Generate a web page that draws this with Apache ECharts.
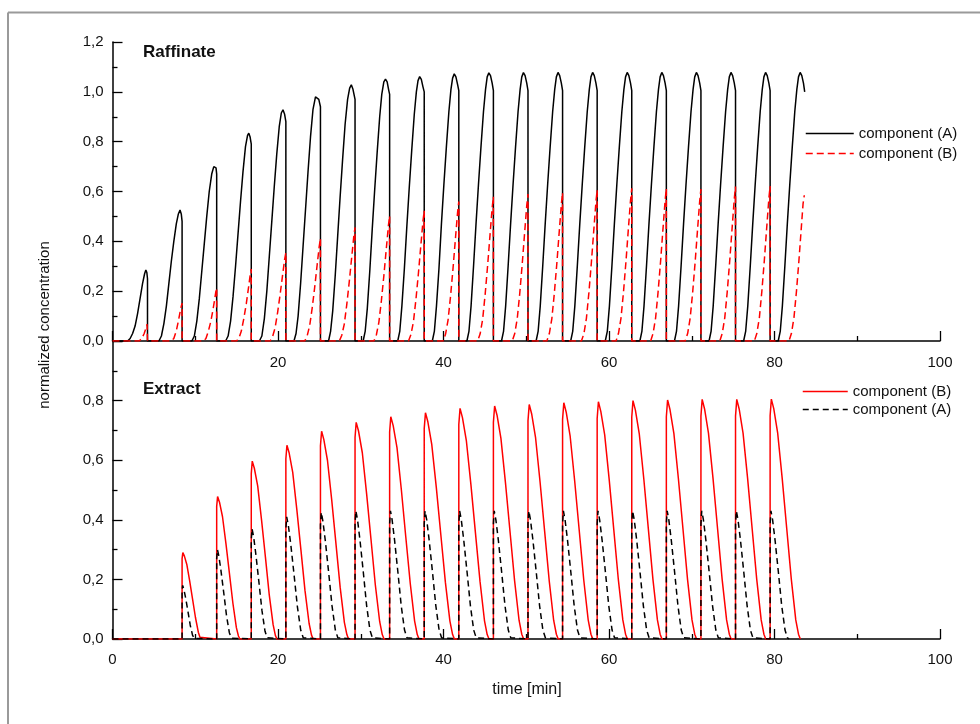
<!DOCTYPE html>
<html>
<head>
<meta charset="utf-8">
<script src="https://cdn.jsdelivr.net/npm/echarts@6/dist/echarts.min.js"></script>
<style>
html,body{margin:0;padding:0;background:#fff;}
#chart{width:980px;height:724px;}
</style>
</head>
<body>
<div id="chart"></div>
<script>
// ---------- data (time [min], normalized concentration) ----------
const xTicks = [0, 20, 40, 60, 80, 100];
const seriesNames = ['component (A)', 'component (B)'];
const panelTitles = ['Raffinate', 'Extract'];

// Raffinate, component (A) - solid black
const raffinateA = [
[0,0],
[1.83,0],[2.13,0.01],[2.43,0.03],[2.73,0.06],[3.03,0.11],[3.33,0.17],[3.63,0.23],[3.88,0.27],[4.03,0.285],[4.15,0.275],[4.23,0.25],[4.23,0],
[5.61,0],[5.91,0.02],[6.21,0.07],[6.51,0.14],[6.81,0.23],[7.11,0.32],[7.41,0.40],[7.71,0.47],[7.96,0.51],[8.16,0.526],[8.31,0.51],[8.41,0.48],[8.41,0],
[9.59,0],[9.89,0.02],[10.19,0.08],[10.49,0.17],[10.79,0.28],[11.09,0.39],[11.39,0.50],[11.69,0.60],[11.99,0.67],[12.24,0.70],[12.39,0.707],[12.51,0.695],[12.59,0.67],[12.59,0],
[13.67,0],[13.97,0.02],[14.27,0.08],[14.57,0.18],[14.87,0.30],[15.17,0.43],[15.47,0.56],[15.77,0.68],[16.07,0.78],[16.32,0.825],[16.47,0.834],[16.62,0.82],[16.77,0.79],[16.77,0],
[17.75,0],[18.05,0.02],[18.35,0.09],[18.65,0.20],[18.95,0.34],[19.25,0.48],[19.55,0.62],[19.85,0.75],[20.15,0.86],[20.40,0.915],[20.60,0.928],[20.80,0.91],[20.95,0.88],[20.95,0],
[21.93,0],[22.18,0.03],[22.43,0.10],[22.73,0.23],[23.03,0.38],[23.33,0.53],[23.63,0.68],[23.93,0.82],[24.23,0.93],[24.53,0.98],[24.73,0.988],[24.93,0.97],[25.13,0.94],[25.13,0],
[26.11,0],[26.36,0.04],[26.61,0.12],[26.91,0.26],[27.21,0.42],[27.51,0.58],[27.81,0.73],[28.11,0.87],[28.41,0.97],[28.66,1.015],[28.86,1.028],[29.06,1.01],[29.31,0.97],[29.31,0],
[30.29,0],[30.54,0.04],[30.79,0.13],[31.09,0.28],[31.39,0.45],[31.69,0.61],[31.99,0.76],[32.29,0.90],[32.54,0.99],[32.79,1.04],[32.99,1.051],[33.19,1.04],[33.39,1.005],[33.49,0.99],[33.49,0],
[34.47,0],[34.72,0.04],[34.97,0.14],[35.27,0.29],[35.57,0.46],[35.87,0.62],[36.17,0.77],[36.47,0.91],[36.72,1.00],[36.92,1.045],[37.12,1.061],[37.32,1.05],[37.52,1.02],[37.67,1.0],[37.67,0],
[38.65,0],[38.90,0.04],[39.15,0.14],[39.45,0.29],[39.75,0.47],[40.05,0.63],[40.35,0.78],[40.65,0.92],[40.90,1.01],[41.10,1.055],[41.30,1.072],[41.50,1.06],[41.70,1.03],[41.85,1.005],[41.85,0],
[42.83,0],[43.08,0.04],[43.33,0.14],[43.63,0.30],[43.93,0.47],[44.23,0.63],[44.53,0.78],[44.83,0.92],[45.08,1.01],[45.28,1.06],[45.48,1.076],[45.68,1.065],[45.88,1.035],[46.03,1.005],[46.03,0],
[47.01,0],[47.26,0.04],[47.51,0.14],[47.81,0.30],[48.11,0.47],[48.41,0.63],[48.71,0.78],[49.01,0.92],[49.26,1.01],[49.46,1.06],[49.66,1.077],[49.86,1.065],[50.06,1.035],[50.21,1.005],[50.21,0],
[51.19,0],[51.44,0.04],[51.69,0.14],[51.99,0.30],[52.29,0.47],[52.59,0.63],[52.89,0.78],[53.19,0.92],[53.44,1.01],[53.64,1.06],[53.84,1.078],[54.04,1.065],[54.24,1.035],[54.39,1.005],[54.39,0],
[55.37,0],[55.62,0.04],[55.87,0.14],[56.17,0.30],[56.47,0.47],[56.77,0.63],[57.07,0.78],[57.37,0.92],[57.62,1.01],[57.82,1.06],[58.02,1.078],[58.22,1.065],[58.42,1.035],[58.57,1.005],[58.57,0],
[59.55,0],[59.80,0.04],[60.05,0.14],[60.35,0.30],[60.65,0.47],[60.95,0.63],[61.25,0.78],[61.55,0.92],[61.80,1.01],[62.00,1.06],[62.20,1.078],[62.40,1.065],[62.60,1.035],[62.75,1.005],[62.75,0],
[63.73,0],[63.98,0.04],[64.23,0.14],[64.53,0.30],[64.83,0.47],[65.13,0.63],[65.43,0.78],[65.73,0.92],[65.98,1.01],[66.18,1.06],[66.38,1.078],[66.58,1.065],[66.78,1.035],[66.93,1.005],[66.93,0],
[67.91,0],[68.16,0.04],[68.41,0.14],[68.71,0.30],[69.01,0.47],[69.31,0.63],[69.61,0.78],[69.91,0.92],[70.16,1.01],[70.36,1.06],[70.56,1.078],[70.76,1.065],[70.96,1.035],[71.11,1.005],[71.11,0],
[72.09,0],[72.34,0.04],[72.59,0.14],[72.89,0.30],[73.19,0.47],[73.49,0.63],[73.79,0.78],[74.09,0.92],[74.34,1.01],[74.54,1.06],[74.74,1.078],[74.94,1.065],[75.14,1.035],[75.29,1.005],[75.29,0],
[76.27,0],[76.52,0.04],[76.77,0.14],[77.07,0.30],[77.37,0.47],[77.67,0.63],[77.97,0.78],[78.27,0.92],[78.52,1.01],[78.72,1.06],[78.92,1.078],[79.12,1.065],[79.32,1.035],[79.47,1.005],[79.47,0],
[80.45,0],[80.70,0.04],[80.95,0.14],[81.25,0.30],[81.55,0.47],[81.85,0.63],[82.15,0.78],[82.45,0.92],[82.70,1.01],[82.90,1.06],[83.10,1.078],[83.30,1.065],[83.50,1.035],[83.65,1.0]
];

// Raffinate, component (B) - dashed red
const raffinateB = [
[0,0],
[3.23,0],[3.53,0.01],[3.83,0.03],[4.03,0.05],[4.18,0.067],[4.23,0.072],[4.23,0],
[7.11,0],[7.41,0.01],[7.71,0.04],[7.96,0.08],[8.16,0.115],[8.33,0.142],[8.41,0.152],[8.41,0],
[10.99,0],[11.29,0.01],[11.59,0.04],[11.89,0.08],[12.14,0.125],[12.34,0.165],[12.49,0.198],[12.59,0.213],[12.59,0],
[14.97,0],[15.27,0.01],[15.57,0.04],[15.87,0.09],[16.17,0.15],[16.42,0.21],[16.62,0.26],[16.77,0.289],[16.77,0],
[19.05,0],[19.35,0.018],[19.65,0.053],[19.95,0.114],[20.25,0.185],[20.55,0.263],[20.80,0.327],[20.95,0.355],[20.95,0],
[23.23,0],[23.53,0.021],[23.83,0.062],[24.13,0.132],[24.43,0.214],[24.73,0.305],[24.98,0.379],[25.13,0.412],[25.13,0],
[27.41,0],[27.71,0.023],[28.01,0.068],[28.31,0.146],[28.61,0.237],[28.91,0.337],[29.16,0.42],[29.31,0.456],[29.31,0],
[31.59,0],[31.89,0.025],[32.19,0.075],[32.49,0.161],[32.79,0.261],[33.09,0.371],[33.34,0.462],[33.49,0.502],[33.49,0],
[35.77,0],[36.07,0.026],[36.37,0.078],[36.67,0.167],[36.97,0.272],[37.27,0.387],[37.52,0.481],[37.67,0.523],[37.67,0],
[39.95,0],[40.25,0.028],[40.55,0.084],[40.85,0.179],[41.15,0.291],[41.45,0.414],[41.70,0.515],[41.85,0.56],[41.85,0],
[44.13,0],[44.43,0.029],[44.73,0.087],[45.03,0.186],[45.33,0.302],[45.63,0.429],[45.88,0.534],[46.03,0.58],[46.03,0],
[48.31,0],[48.61,0.03],[48.91,0.089],[49.21,0.189],[49.51,0.307],[49.81,0.437],[50.06,0.543],[50.21,0.59],[50.21,0],
[52.49,0],[52.79,0.03],[53.09,0.089],[53.39,0.19],[53.69,0.309],[53.99,0.44],[54.24,0.547],[54.39,0.595],[54.39,0],
[56.67,0],[56.97,0.03],[57.27,0.091],[57.57,0.194],[57.87,0.315],[58.17,0.448],[58.42,0.558],[58.57,0.606],[58.57,0],
[60.85,0],[61.15,0.031],[61.45,0.092],[61.75,0.196],[62.05,0.319],[62.35,0.454],[62.60,0.564],[62.75,0.613],[62.75,0],
[65.03,0],[65.33,0.031],[65.63,0.092],[65.93,0.196],[66.23,0.318],[66.53,0.453],[66.78,0.563],[66.93,0.612],[66.93,0],
[69.21,0],[69.51,0.031],[69.81,0.092],[70.11,0.195],[70.41,0.317],[70.71,0.451],[70.96,0.561],[71.11,0.61],[71.11,0],
[73.39,0],[73.69,0.031],[73.99,0.093],[74.29,0.198],[74.59,0.322],[74.89,0.459],[75.14,0.57],[75.29,0.62],[75.29,0],
[77.57,0],[77.87,0.031],[78.17,0.093],[78.47,0.199],[78.77,0.323],[79.07,0.46],[79.32,0.572],[79.47,0.622],[79.47,0],
[81.75,0],[82.05,0.031],[82.35,0.093],[82.65,0.198],[82.95,0.322],[83.25,0.459],[83.45,0.55],[83.6,0.585]
];

// Extract, component (B) - solid red
const extractB = [
[0,0],
[8.41,0],[8.41,0.27],[8.50,0.29],[8.69,0.278],[8.99,0.249],[9.33,0.194],[9.68,0.133],[10.02,0.073],[10.37,0.023],[10.57,0.006],[10.71,0],
[12.59,0],[12.59,0.445],[12.70,0.478],[12.93,0.459],[13.29,0.411],[13.71,0.32],[14.13,0.22],[14.55,0.12],[14.97,0.038],[15.22,0.01],[15.39,0],
[16.77,0],[16.77,0.555],[16.89,0.597],[17.14,0.573],[17.55,0.513],[18.01,0.40],[18.48,0.275],[18.94,0.149],[19.41,0.048],[19.68,0.012],[19.87,0],
[20.95,0],[20.95,0.605],[21.08,0.65],[21.35,0.624],[21.78,0.559],[22.27,0.436],[22.77,0.299],[23.26,0.163],[23.76,0.052],[24.05,0.013],[24.25,0],
[25.13,0],[25.13,0.648],[25.27,0.697],[25.54,0.669],[25.98,0.599],[26.49,0.467],[27.00,0.321],[27.51,0.174],[28.02,0.056],[28.33,0.014],[28.53,0],
[29.31,0],[29.31,0.676],[29.45,0.727],[29.73,0.698],[30.19,0.625],[30.71,0.487],[31.24,0.334],[31.76,0.182],[32.29,0.058],[32.60,0.015],[32.81,0],
[33.49,0],[33.49,0.694],[33.63,0.746],[33.92,0.716],[34.38,0.642],[34.91,0.50],[35.44,0.343],[35.98,0.187],[36.51,0.06],[36.83,0.015],[37.04,0],
[37.67,0],[37.67,0.706],[37.82,0.759],[38.11,0.729],[38.58,0.653],[39.13,0.509],[39.68,0.349],[40.23,0.19],[40.77,0.061],[41.10,0.015],[41.32,0],
[41.85,0],[41.85,0.72],[42.00,0.774],[42.29,0.743],[42.76,0.666],[43.31,0.519],[43.86,0.356],[44.41,0.194],[44.95,0.062],[45.28,0.015],[45.50,0],
[46.03,0],[46.03,0.727],[46.18,0.782],[46.47,0.751],[46.94,0.673],[47.49,0.524],[48.04,0.36],[48.59,0.196],[49.13,0.063],[49.46,0.016],[49.68,0],
[50.21,0],[50.21,0.732],[50.36,0.787],[50.65,0.756],[51.12,0.677],[51.67,0.527],[52.22,0.362],[52.77,0.197],[53.31,0.063],[53.64,0.016],[53.86,0],
[54.39,0],[54.39,0.737],[54.54,0.793],[54.83,0.761],[55.30,0.682],[55.85,0.531],[56.40,0.365],[56.95,0.198],[57.49,0.063],[57.82,0.016],[58.04,0],
[58.57,0],[58.57,0.74],[58.72,0.796],[59.01,0.764],[59.48,0.685],[60.03,0.533],[60.58,0.366],[61.13,0.199],[61.67,0.064],[62.00,0.016],[62.22,0],
[62.75,0],[62.75,0.744],[62.90,0.80],[63.19,0.768],[63.66,0.688],[64.21,0.536],[64.76,0.368],[65.31,0.20],[65.85,0.064],[66.18,0.016],[66.40,0],
[66.93,0],[66.93,0.746],[67.08,0.802],[67.37,0.77],[67.84,0.69],[68.39,0.537],[68.94,0.369],[69.49,0.20],[70.03,0.064],[70.36,0.016],[70.58,0],
[71.11,0],[71.11,0.748],[71.26,0.804],[71.55,0.772],[72.02,0.691],[72.57,0.539],[73.12,0.37],[73.67,0.201],[74.21,0.064],[74.54,0.016],[74.76,0],
[75.29,0],[75.29,0.748],[75.44,0.804],[75.73,0.772],[76.20,0.691],[76.75,0.539],[77.30,0.37],[77.85,0.201],[78.39,0.064],[78.72,0.016],[78.94,0],
[79.47,0],[79.47,0.749],[79.62,0.805],[79.91,0.773],[80.38,0.692],[80.93,0.539],[81.48,0.37],[82.03,0.201],[82.57,0.064],[82.90,0.016],[83.12,0]
];

// Extract, component (A) - dashed black
const extractA = [
[0,0],
[8.41,0],[8.41,0.162],[8.48,0.18],[8.62,0.167],[8.83,0.139],[9.11,0.094],[9.39,0.047],[9.67,0.013],[9.88,0.002],[10.02,0],
[12.59,0],[12.59,0.27],[12.68,0.30],[12.85,0.279],[13.10,0.231],[13.44,0.156],[13.78,0.078],[14.12,0.021],[14.38,0.003],[14.55,0],
[16.77,0],[16.77,0.333],[16.86,0.37],[17.05,0.344],[17.32,0.285],[17.69,0.192],[18.06,0.096],[18.43,0.026],[18.70,0.004],[18.89,0],
[20.95,0],[20.95,0.369],[21.05,0.41],[21.25,0.381],[21.55,0.316],[21.95,0.213],[22.35,0.107],[22.75,0.029],[23.05,0.004],[23.25,0],
[25.13,0],[25.13,0.383],[25.23,0.425],[25.43,0.395],[25.73,0.327],[26.13,0.221],[26.53,0.111],[26.93,0.03],[27.23,0.004],[27.43,0],
[29.31,0],[29.31,0.387],[29.41,0.43],[29.61,0.40],[29.91,0.331],[30.31,0.224],[30.71,0.112],[31.11,0.03],[31.41,0.004],[31.61,0],
[33.49,0],[33.49,0.387],[33.59,0.43],[33.79,0.40],[34.09,0.331],[34.49,0.224],[34.89,0.112],[35.29,0.03],[35.59,0.004],[35.79,0],
[37.67,0],[37.67,0.387],[37.77,0.43],[37.97,0.40],[38.27,0.331],[38.67,0.224],[39.07,0.112],[39.47,0.03],[39.77,0.004],[39.97,0],
[41.85,0],[41.85,0.387],[41.95,0.43],[42.15,0.40],[42.45,0.331],[42.85,0.224],[43.25,0.112],[43.65,0.03],[43.95,0.004],[44.15,0],
[46.03,0],[46.03,0.387],[46.13,0.43],[46.33,0.40],[46.63,0.331],[47.03,0.224],[47.43,0.112],[47.83,0.03],[48.13,0.004],[48.33,0],
[50.21,0],[50.21,0.387],[50.31,0.43],[50.51,0.40],[50.81,0.331],[51.21,0.224],[51.61,0.112],[52.01,0.03],[52.31,0.004],[52.51,0],
[54.39,0],[54.39,0.387],[54.49,0.43],[54.69,0.40],[54.99,0.331],[55.39,0.224],[55.79,0.112],[56.19,0.03],[56.49,0.004],[56.69,0],
[58.57,0],[58.57,0.387],[58.67,0.43],[58.87,0.40],[59.17,0.331],[59.57,0.224],[59.97,0.112],[60.37,0.03],[60.67,0.004],[60.87,0],
[62.75,0],[62.75,0.387],[62.85,0.43],[63.05,0.40],[63.35,0.331],[63.75,0.224],[64.15,0.112],[64.55,0.03],[64.85,0.004],[65.05,0],
[66.93,0],[66.93,0.387],[67.03,0.43],[67.23,0.40],[67.53,0.331],[67.93,0.224],[68.33,0.112],[68.73,0.03],[69.03,0.004],[69.23,0],
[71.11,0],[71.11,0.387],[71.21,0.43],[71.41,0.40],[71.71,0.331],[72.11,0.224],[72.51,0.112],[72.91,0.03],[73.21,0.004],[73.41,0],
[75.29,0],[75.29,0.387],[75.39,0.43],[75.59,0.40],[75.89,0.331],[76.29,0.224],[76.69,0.112],[77.09,0.03],[77.39,0.004],[77.59,0],
[79.47,0],[79.47,0.387],[79.57,0.43],[79.77,0.40],[80.07,0.331],[80.47,0.224],[80.87,0.112],[81.27,0.03],[81.57,0.004],[81.77,0]
];

// ---------- chart ----------
const FONT = '"Liberation Sans", Arial, sans-serif';
const chart = echarts.init(document.getElementById('chart'), null, {renderer: 'canvas'});

function comma(v) { return v.toFixed(1).replace('.', ','); }

function xAxisCfg(gridIndex, showZero, margin) {
  return {
    type: 'value', gridIndex: gridIndex, min: xTicks[0], max: xTicks[xTicks.length - 1], interval: 20,
    axisLine: {lineStyle: {color: '#000', width: 1.5}},
    axisTick: {inside: true, length: 10, lineStyle: {color: '#000', width: 1.3}},
    minorTick: {show: true, splitNumber: 2, length: 5, lineStyle: {color: '#000', width: 1.3}},
    splitLine: {show: false},
    axisLabel: {
      margin: margin, fontSize: 15, color: '#111', fontFamily: FONT,
      formatter: function (v) { return (!showZero && v === 0) ? '' : String(v); }
    }
  };
}
function yAxisCfg(gridIndex, max, hideTop) {
  return {
    type: 'value', gridIndex: gridIndex, min: 0, max: max, interval: 0.2,
    axisLine: {show: true, lineStyle: {color: '#000', width: 1.5}},
    axisTick: {inside: true, length: 10, lineStyle: {color: '#000', width: 1.3}},
    minorTick: {show: true, splitNumber: 2, length: 5, lineStyle: {color: '#000', width: 1.3}},
    splitLine: {show: false},
    axisLabel: {
      margin: 9, fontSize: 15, color: '#111', fontFamily: FONT,
      formatter: function (v) { return (hideTop && Math.abs(v - max) < 1e-6) ? '' : comma(v); }
    }
  };
}

const noSymbol = {opacity: 0, borderWidth: 0};

const option = {
  animation: false,
  backgroundColor: '#fff',
  title: [
    {text: panelTitles[0], left: 143, top: 44, padding: 0,
     textStyle: {fontSize: 17, fontWeight: 'bold', color: '#111', fontFamily: FONT}},
    {text: panelTitles[1], left: 143, top: 381, padding: 0,
     textStyle: {fontSize: 17, fontWeight: 'bold', color: '#111', fontFamily: FONT}}
  ],
  legend: [
    {
      left: 805, top: 126, orient: 'vertical', itemWidth: 48, itemHeight: 14, itemGap: 5,
      selectedMode: false, padding: 0,
      textStyle: {fontSize: 15, color: '#111', fontFamily: FONT},
      data: [
        {name: seriesNames[0], itemStyle: noSymbol, lineStyle: {color: '#000', type: 'solid', width: 1.5}},
        {name: seriesNames[1], itemStyle: noSymbol, lineStyle: {color: '#ff0000', type: [7, 4], width: 1.5}}
      ]
    },
    {
      left: 802, top: 384, orient: 'vertical', itemWidth: 45, itemHeight: 14, itemGap: 3,
      selectedMode: false, padding: 0,
      textStyle: {fontSize: 15, color: '#111', fontFamily: FONT},
      data: [
        {name: seriesNames[1], itemStyle: noSymbol, lineStyle: {color: '#ff0000', type: 'solid', width: 1.5}},
        {name: seriesNames[0], itemStyle: noSymbol, lineStyle: {color: '#000', type: [6, 4], width: 1.5}}
      ]
    }
  ],
  grid: [
    {left: 112.5, right: 40, top: 42, height: 299},
    {left: 112.5, right: 40, top: 341, height: 298}
  ],
  xAxis: [xAxisCfg(0, false, 14), xAxisCfg(1, true, 13)],
  yAxis: [yAxisCfg(0, 1.2, false), yAxisCfg(1, 1.0, true)],
  graphic: [
    {type: 'line', shape: {x1: 8, y1: 12.5, x2: 980, y2: 12.5}, style: {stroke: '#9a9a9a', lineWidth: 2}, silent: true},
    {type: 'line', shape: {x1: 8, y1: 12.5, x2: 8, y2: 724}, style: {stroke: '#9a9a9a', lineWidth: 2}, silent: true},
    {type: 'text', x: 45, y: 325, rotation: Math.PI / 2,
     style: {text: 'normalized concentration', fontSize: 15, fill: '#111', fontFamily: FONT,
             textAlign: 'center', textVerticalAlign: 'middle'}},
    {type: 'text', x: 527, y: 690,
     style: {text: 'time [min]', fontSize: 16, fill: '#111', fontFamily: FONT,
             textAlign: 'center', textVerticalAlign: 'middle'}}
  ],
  series: [
    {name: seriesNames[0], type: 'line', xAxisIndex: 0, yAxisIndex: 0, data: raffinateA,
     symbol: 'none', smooth: false, lineStyle: {color: '#000', width: 1.5}, itemStyle: {color: '#000'}, z: 2},
    {name: seriesNames[1], type: 'line', xAxisIndex: 0, yAxisIndex: 0, data: raffinateB,
     symbol: 'none', smooth: false, lineStyle: {color: '#ff0000', width: 1.5, type: [7, 4]}, itemStyle: {color: '#ff0000'}, z: 3},
    {name: seriesNames[1], type: 'line', xAxisIndex: 1, yAxisIndex: 1, data: extractB,
     symbol: 'none', smooth: false, lineStyle: {color: '#ff0000', width: 1.5}, itemStyle: {color: '#ff0000'}, z: 2},
    {name: seriesNames[0], type: 'line', xAxisIndex: 1, yAxisIndex: 1, data: extractA,
     symbol: 'none', smooth: false, lineStyle: {color: '#000', width: 1.5, type: [6, 4]}, itemStyle: {color: '#000'}, z: 3}
  ]
};
chart.setOption(option);
</script>
</body>
</html>
